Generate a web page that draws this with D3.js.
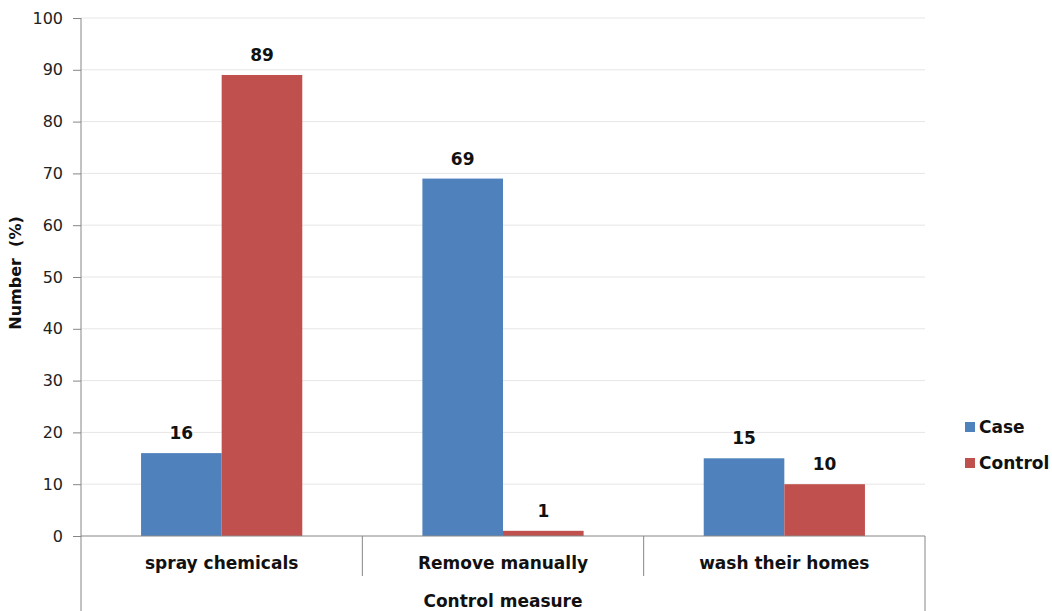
<!DOCTYPE html>
<html>
<head>
<meta charset="utf-8">
<script src="https://cdn.jsdelivr.net/npm/d3@7/dist/d3.min.js"></script>
<style>
  html, body { margin: 0; padding: 0; background: #fff; }
  svg { display: block; font-family: "DejaVu Sans", Verdana, sans-serif; }
</style>
</head>
<body>
<svg id="chart" width="1052" height="611"></svg>
<script>
// Control measures by group
const categories = ["spray chemicals", "Remove manually", "wash their homes"];
const seriesNames = ["Case", "Control"];
const caseValues = [16, 69, 15];
const controlValues = [89, 1, 10];
const yTicks = [0, 10, 20, 30, 40, 50, 60, 70, 80, 90, 100];
const colors = ["#4F81BD", "#C0504D"];

const svg = d3.select("#chart");
const plotLeft = 81, plotRight = 925, plotTop = 18, plotBottom = 536;

const x0 = d3.scaleBand().domain(categories).range([plotLeft, plotRight]).paddingInner(0).paddingOuter(0);
const x1 = d3.scaleBand().domain(seriesNames)
  .range([0, x0.bandwidth()]).paddingOuter(0.745).paddingInner(0);
const y = d3.scaleLinear().domain([0, 100]).range([plotBottom, plotTop]);

// horizontal gridlines
svg.append("g").selectAll("line").data(yTicks.filter(t => t > 0)).join("line")
  .attr("x1", plotLeft).attr("x2", plotRight)
  .attr("y1", d => y(d)).attr("y2", d => y(d))
  .attr("stroke", "#e6e6e6").attr("stroke-width", 1);

// bars
const rows = categories.map((c, i) => ({ cat: c, vals: [caseValues[i], controlValues[i]] }));
const groups = svg.append("g").selectAll("g").data(rows).join("g")
  .attr("transform", d => `translate(${x0(d.cat)},0)`);
groups.selectAll("rect").data(d => d.vals.map((v, k) => ({ v, k }))).join("rect")
  .attr("x", d => x1(seriesNames[d.k]))
  .attr("width", x1.bandwidth())
  .attr("y", d => y(d.v))
  .attr("height", d => plotBottom - y(d.v))
  .attr("fill", d => colors[d.k]);
groups.selectAll("text").data(d => d.vals.map((v, k) => ({ v, k }))).join("text")
  .attr("x", d => x1(seriesNames[d.k]) + x1.bandwidth() / 2)
  .attr("y", d => y(d.v) - 14)
  .attr("text-anchor", "middle")
  .attr("font-size", 17).attr("font-weight", "bold").attr("fill", "#111")
  .text(d => d.v);

// y axis
const yAxis = svg.append("g").attr("transform", `translate(${plotLeft},0)`)
  .call(d3.axisLeft(y).tickValues(yTicks).tickSize(8).tickPadding(10));
yAxis.select(".domain").remove();
yAxis.selectAll(".tick line").attr("stroke", "#868686");
yAxis.selectAll(".tick text").attr("font-size", 16).attr("fill", "#222")
  .attr("font-family", "DejaVu Sans, Verdana, sans-serif");
svg.append("line").attr("x1", plotLeft).attr("x2", plotLeft).attr("y1", plotTop).attr("y2", 611)
  .attr("stroke", "#868686");

// x axis with category separators
svg.append("line").attr("x1", plotLeft).attr("x2", plotRight).attr("y1", plotBottom).attr("y2", plotBottom)
  .attr("stroke", "#868686");
svg.append("g").selectAll("line").data(categories.slice(1)).join("line")
  .attr("x1", d => x0(d)).attr("x2", d => x0(d))
  .attr("y1", plotBottom).attr("y2", plotBottom + 40)
  .attr("stroke", "#868686");
svg.append("line").attr("x1", plotRight).attr("x2", plotRight).attr("y1", plotBottom).attr("y2", 611)
  .attr("stroke", "#868686");
svg.append("g").selectAll("text").data(categories).join("text")
  .attr("x", d => x0(d) + x0.bandwidth() / 2)
  .attr("y", plotBottom + 33)
  .attr("text-anchor", "middle")
  .attr("font-size", 17).attr("font-weight", "bold").attr("fill", "#111")
  .text(d => d);

// axis titles
svg.append("text").attr("x", (plotLeft + plotRight) / 2).attr("y", 607)
  .attr("text-anchor", "middle").attr("font-size", 17).attr("font-weight", "bold")
  .attr("fill", "#111").text("Control measure");
svg.append("text").attr("transform", `translate(21,273) rotate(-90)`)
  .attr("text-anchor", "middle").attr("font-size", 16).attr("font-weight", "bold")
  .attr("fill", "#111").attr("xml:space", "preserve").text("Number  (%)");

// legend
const legend = svg.append("g").selectAll("g").data(seriesNames).join("g")
  .attr("transform", (d, i) => `translate(965,${427 + i * 36})`);
legend.append("rect").attr("x", 0).attr("y", -5).attr("width", 10).attr("height", 10)
  .attr("fill", (d, i) => colors[i]);
legend.append("text").attr("x", 14).attr("y", 6)
  .attr("font-size", 17).attr("font-weight", "bold").attr("fill", "#111")
  .text(d => d);
</script>
</body>
</html>
